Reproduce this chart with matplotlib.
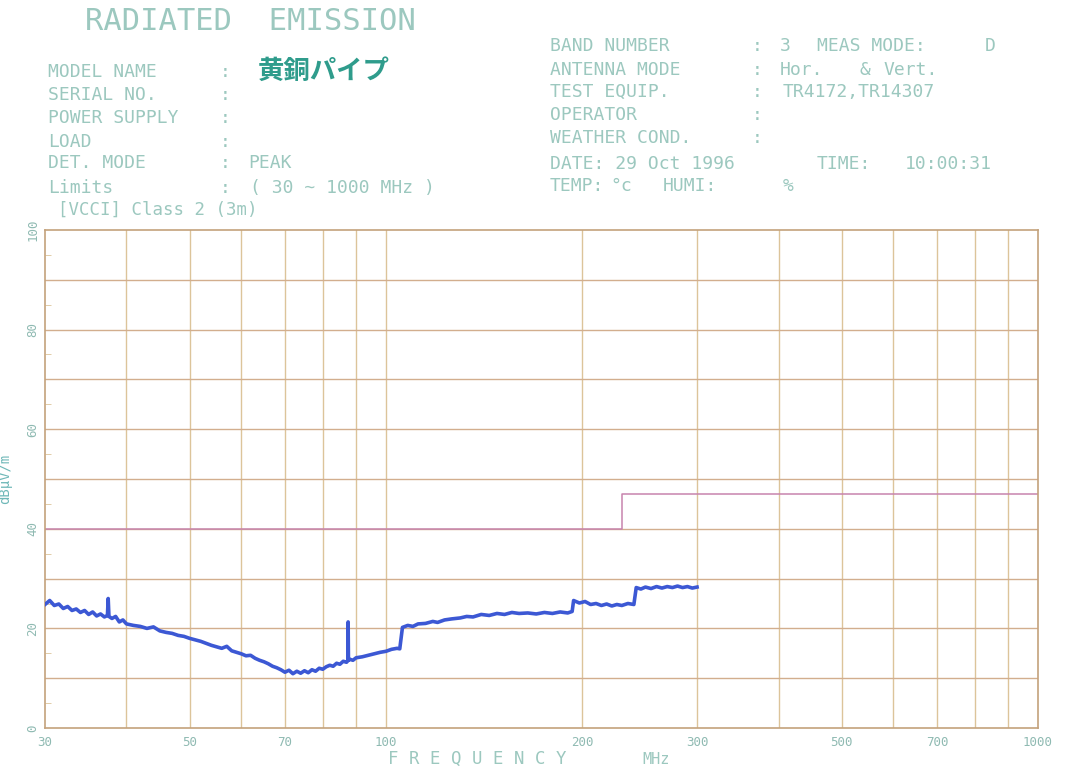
import matplotlib
matplotlib.use("Agg")
import matplotlib.pyplot as plt
from matplotlib.ticker import FixedLocator, NullFormatter

# emission trace (MHz, dBuV/m)
freq_mhz = [30, 30.5, 31, 31.5, 32, 32.5, 33, 33.5, 34, 34.5, 35, 35.5, 36, 36.5, 37, 37.4, 37.5, 37.6,
            38, 38.5, 39, 39.5, 40, 41, 42, 43, 44, 45, 46, 47, 48, 49, 50, 51, 52, 53, 54, 55,
            56, 57, 58, 59, 60, 61, 62, 63, 64, 65, 66, 67, 68, 69, 70, 71, 72, 73, 74, 75, 76, 77, 78,
            79, 80, 81, 82, 83, 84, 85, 86, 87, 87.4, 87.5, 87.6, 88, 89, 90, 92, 94, 96, 98, 100, 102,
            104, 105, 106, 108, 110, 112, 115, 118, 120, 123, 126, 130, 133, 136, 140, 144, 148, 152,
            156, 160, 165, 170, 175, 180, 185, 190, 193, 194, 198, 202, 206, 210, 214, 218, 222, 226,
            230, 235, 240, 242, 246, 250, 255, 260, 265, 270, 275, 280, 285, 290, 295, 300]
level_dbuv = [24.8, 25.6, 24.6, 24.9, 24.0, 24.4, 23.6, 23.9, 23.2, 23.6, 22.8, 23.3, 22.5, 22.9, 22.3, 22.6, 26.0, 22.4,
              22.0, 22.4, 21.3, 21.7, 20.9, 20.6, 20.4, 20.0, 20.3, 19.5, 19.2, 19.0, 18.6, 18.4, 18.0, 17.7, 17.4, 17.0, 16.6, 16.3,
              16.0, 16.4, 15.5, 15.2, 14.9, 14.5, 14.6, 14.0, 13.6, 13.3, 12.9, 12.4, 12.1, 11.7, 11.2, 11.6, 10.9, 11.4, 11.0, 11.5, 11.1, 11.7, 11.4,
              12.0, 11.8, 12.3, 12.6, 12.4, 13.0, 12.8, 13.4, 13.2, 13.5, 21.3, 13.6, 13.8, 13.6, 14.1, 14.3, 14.6, 14.9, 15.2, 15.4, 15.8,
              16.0, 15.9, 20.2, 20.6, 20.4, 20.9, 21.0, 21.4, 21.2, 21.7, 21.9, 22.1, 22.4, 22.3, 22.8, 22.6, 23.0, 22.8,
              23.2, 23.0, 23.1, 22.9, 23.2, 23.0, 23.3, 23.1, 23.4, 25.6, 25.1, 25.4, 24.8, 25.0, 24.6, 24.9, 24.5, 24.8,
              24.6, 25.0, 24.8, 28.2, 27.9, 28.3, 28.0, 28.4, 28.1, 28.4, 28.2, 28.5, 28.2, 28.4, 28.1, 28.3]

# VCCI class 2 (3m) limit line
limit_freq = [30, 230, 230, 1000]
limit_level = [40, 40, 47, 47]

x_ticks = [30, 50, 70, 100, 200, 300, 500, 700, 1000]
x_grid = [40, 50, 60, 70, 80, 90, 100, 200, 300, 400, 500, 600, 700, 800, 900]
y_ticks = [0, 20, 40, 60, 80, 100]

left_labels = ["MODEL NAME", "SERIAL NO.", "POWER SUPPLY", "LOAD", "DET. MODE", "Limits"]
right_labels = ["BAND NUMBER", "ANTENNA MODE", "TEST EQUIP.", "OPERATOR", "WEATHER COND."]

W, H = 1072, 771
txt_col = "#9cc8bf"
grid_col = "#dcc49a"
mono = "DejaVu Sans Mono"

fig = plt.figure(figsize=(W / 100, H / 100), dpi=100)
ax = fig.add_axes([45 / W, 1 - 728 / H, (1038 - 45) / W, (728 - 230) / H])

ax.set_xscale("log")
ax.set_xlim(30, 1000)
ax.set_ylim(0, 100)

ax.xaxis.set_major_locator(FixedLocator(x_ticks))
ax.xaxis.set_minor_locator(FixedLocator([]))
ax.set_xticklabels([str(t) for t in x_ticks])
ax.xaxis.set_minor_formatter(NullFormatter())
ax.set_yticks(y_ticks)
ax.set_yticklabels([str(t) for t in y_ticks], rotation=90, va="center")
ax.set_yticks(range(5, 100, 10), minor=True)

for g in x_grid:
    ax.axvline(g, color=grid_col, lw=1.0, zorder=1)
for g in range(10, 100, 10):
    ax.axhline(g, color="#d2ae8e", lw=1.0, zorder=1)

for s in ax.spines.values():
    s.set_color("#c4a27c")
    s.set_linewidth(1.2)

ax.tick_params(axis="x", length=0, colors="#8fbab2", labelsize=9, pad=6)
ax.tick_params(axis="y", which="major", length=0, colors="#8fbab2", labelsize=9, pad=4)
ax.tick_params(axis="y", which="minor", length=4, direction="in", color=grid_col)
for lab in ax.get_xticklabels() + ax.get_yticklabels():
    lab.set_family(mono)

ax.plot(limit_freq, limit_level, color="#c784ad", lw=1.1, zorder=2)
ax.plot(freq_mhz, level_dbuv, color="#3c58d4", lw=2.6, zorder=3)

ax.set_ylabel("dBμV/m", color="#6fb8b8", fontsize=10, family=mono, labelpad=10)


def put(x, y, s, size=13, **kw):
    fig.text(x / W, 1 - y / H, s, color=txt_col, family=mono, fontsize=size, va="center", **kw)


put(388, 759, "F R E Q U E N C Y", size=12.5)
put(642, 759, "MHz", size=11)

put(85, 22, "RADIATED  EMISSION", size=22)

left_y = [72, 95, 118, 142, 163, 188]
for lab, y in zip(left_labels, left_y):
    put(48, y, lab)
    put(220, y, ":")
put(248, 163, "PEAK")
put(250, 188, "( 30 ~ 1000 MHz )")
put(58, 210, "[VCCI] Class 2 (3m)", size=12.5)
fig.text(258 / W, 1 - 71 / H, "黄銅パイプ", color="#2f9c8c", fontsize=19, fontweight="bold",
         family=["Noto Sans CJK JP", "DejaVu Sans"], va="center")

right_y = [46, 70, 92, 115, 138]
for lab, y in zip(right_labels, right_y):
    put(550, y, lab)
    put(752, y, ":")
put(780, 46, "3")
put(817, 46, "MEAS MODE:")
put(985, 46, "D")
put(780, 70, "Hor.")
put(860, 70, "&")
put(883, 70, "Vert.")
put(783, 92, "TR4172,TR14307")
put(550, 164, "DATE: 29 Oct 1996")
put(817, 164, "TIME:")
put(905, 164, "10:00:31")
put(550, 186, "TEMP:")
put(610, 186, "°c")
put(663, 186, "HUMI:")
put(783, 186, "%")

fig.savefig("out.png", dpi=100, facecolor="white")
